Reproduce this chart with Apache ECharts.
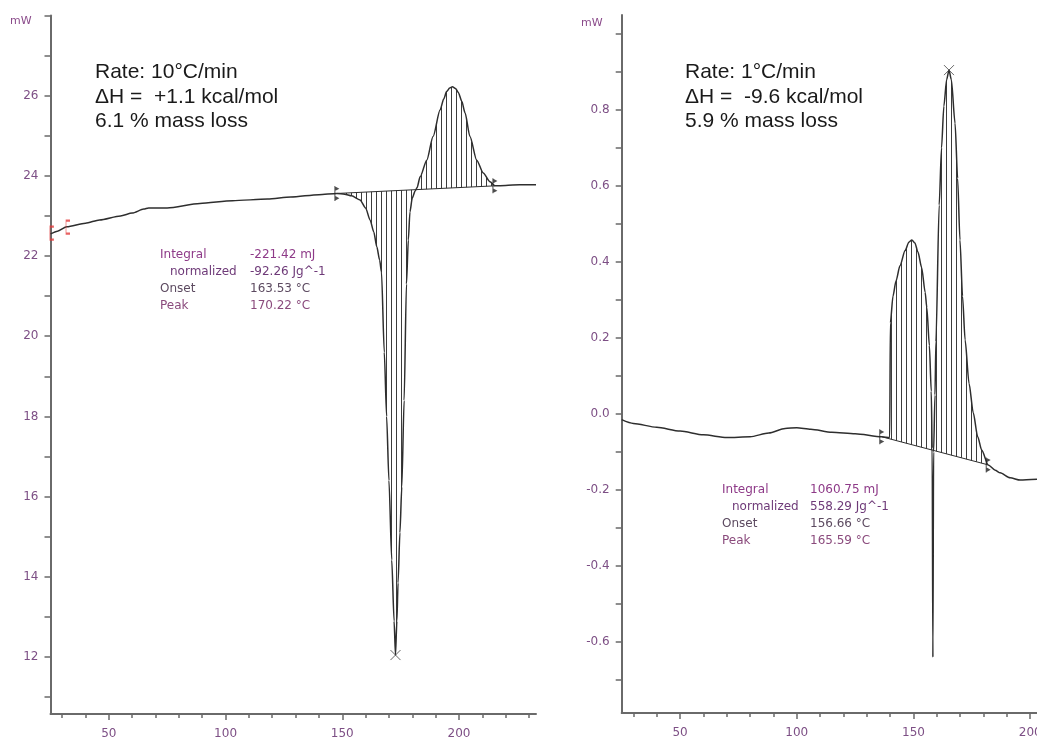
<!DOCTYPE html>
<html>
<head>
<meta charset="utf-8">
<script src="https://cdn.jsdelivr.net/npm/echarts@6/dist/echarts.min.js"></script>
<style>
html,body{margin:0;padding:0;background:#fff;}
#chart{width:1037px;height:744px;}
</style>
</head>
<body>
<div id="chart"></div>
<script>
// ---------- DATA ----------
// Left panel: 10 °C/min
const leftTemp  = [25, 28, 32, 40, 46, 55, 60, 65, 67, 75, 89, 103, 118, 128, 140, 147.7,
  151, 154, 157.6, 160, 161.9, 163.5, 164.8, 166, 166.8, 168, 169, 170, 171.2, 172.2, 172.8,
  173.4, 173.9, 174.7, 175.5, 176.5, 177.5, 178.3, 179, 180, 181.2, 182,
  183.4, 186.2, 188.9, 191.9, 193.5, 194.7, 196, 197.2, 198.5, 199.7, 201.2, 202.6, 204.7, 207.6, 210.4, 213.3, 215.4,
  220, 226, 233];
const leftPower = [22.55, 22.62, 22.73, 22.82, 22.90, 23.0, 23.07, 23.17, 23.2, 23.2, 23.31, 23.38, 23.42, 23.47, 23.53, 23.56,
  23.54, 23.5, 23.4, 23.2, 22.9, 22.6, 22.23, 21.9, 21.6, 19.6, 18.0, 16.4, 14.42, 12.9, 12.05,
  12.9, 13.85, 15.1, 16.24, 18.4, 21.3, 22.4, 23.1, 23.45, 23.62, 23.7,
  23.98, 24.39, 24.98, 25.64, 25.92, 26.10, 26.19, 26.22, 26.18, 26.08, 25.86, 25.57, 24.98, 24.39, 24.07, 23.85, 23.75,
  23.76, 23.78, 23.78];
const leftBaseStart = [147.7, 23.56];
const leftBaseEnd   = [215.4, 23.75];
const leftPeak      = [172.8, 12.05];
const leftRangeMarks = [[25.6, 22.57], [32.5, 22.72]];
const leftYTicks  = [11,12,13,14,15,16,17,18,19,20,21,22,23,24,25,26,27,28];
const leftYLabels = [12,14,16,18,20,22,24,26];
const leftXMinor  = [30,40,60,70,80,90,110,120,130,140,160,170,180,190,210,220,230];
const leftXMajor  = [50,100,150,200];
const leftText = ['Rate: 10\u00B0C/min', '\u0394H =  +1.1 kcal/mol', '6.1 % mass loss'];
const leftInfoLabels = ['Integral', 'normalized', 'Onset', 'Peak'];
const leftInfoValues = ['-221.42 mJ', '-92.26 Jg^-1', '163.53 \u00B0C', '170.22 \u00B0C'];

// Right panel: 1 °C/min
const rightTemp  = [25, 30, 40, 50, 60, 70, 80, 88, 95, 100, 106, 115, 125, 136.4, 139.8,
  140.1, 141.2, 142.5, 144.2, 146.4, 148, 149.3, 150.6, 151.9, 153.5, 155, 155.7, 156.8, 157.6,
  158.0, 158.3, 158.6, 159.2, 159.6, 161, 162, 163, 164.2, 165.2, 166.2, 167.8, 168.9, 169.9, 171, 172.1, 173.8,
  175.6, 177.5, 179.2, 182.0, 185, 187.1, 191.4, 195.7, 202.9];
const rightPower = [-0.015, -0.025, -0.035, -0.045, -0.055, -0.062, -0.06, -0.05, -0.038, -0.036, -0.04, -0.048, -0.052, -0.06, -0.062,
  0.24, 0.31, 0.35, 0.39, 0.43, 0.452, 0.458, 0.45, 0.426, 0.385, 0.32, 0.28, 0.18, 0.06,
  -0.09, -0.64, -0.1, 0.05, 0.19, 0.55, 0.70, 0.81, 0.88, 0.905, 0.88, 0.765, 0.62, 0.458, 0.31, 0.195, 0.08,
  0.003, -0.06, -0.095, -0.134, -0.148, -0.155, -0.168, -0.174, -0.172];
const rightBaseStart = [136.4, -0.06];
const rightBaseEnd   = [182.0, -0.134];
const rightPeak      = [165.2, 0.905];
const rightYTicks  = [-0.7,-0.6,-0.5,-0.4,-0.3,-0.2,-0.1,0,0.1,0.2,0.3,0.4,0.5,0.6,0.7,0.8,0.9,1.0];
const rightYLabels = [-0.6,-0.4,-0.2,0,0.2,0.4,0.6,0.8];
const rightXMinor  = [30,40,60,70,80,90,110,120,130,140,160,170,180,190];
const rightXMajor  = [50,100,150,200];
const rightText = ['Rate: 1\u00B0C/min', '\u0394H =  -9.6 kcal/mol', '5.9 % mass loss'];
const rightInfoLabels = ['Integral', 'normalized', 'Onset', 'Peak'];
const rightInfoValues = ['1060.75 mJ', '558.29 Jg^-1', '156.66 \u00B0C', '165.59 \u00B0C'];

// ---------- STYLE ----------
const axisColor = '#6a6a6a';
const labelColor = '#7d4f85';
const curveColor = '#2e2e2e';
const hatchColor = '#3c3c3c';
const infoColors = ['#8e3a88', '#6e3a78', '#5c4a60', '#8a4a7c'];
const curveSmooth = 0.25;

function zip(a, b){ return a.map((v, i) => [v, b[i]]); }

// hatch lines between the curve and the straight integration baseline (pixel geometry only)
function hatchRenderer(temps, power, b0, b1){
  return function(params, api){
    if (params.dataIndex !== 0) return null;
    const pts = [];
    temps.forEach((t, i) => { if (t >= b0[0] - 1e-9 && t <= b1[0] + 1e-9) pts.push(api.coord([t, power[i]])); });
    const p0 = api.coord(b0), p1 = api.coord(b1);
    const children = [];
    for (let xx = p0[0] + 4; xx < p1[0] - 1; xx += 5) {
      const x = Math.round(xx) + 0.5;
      let yc = null;
      for (let k = 0; k < pts.length - 1; k++) {
        const a = pts[k], b = pts[k + 1];
        if (x >= a[0] && x <= b[0]) { yc = a[1] + (b[1] - a[1]) * (x - a[0]) / ((b[0] - a[0]) || 1); break; }
      }
      if (yc === null) continue;
      const yb = p0[1] + (p1[1] - p0[1]) * (x - p0[0]) / (p1[0] - p0[0]);
      children.push({ type:'line', shape:{x1:x, y1:yc, x2:x, y2:yb}, style:{stroke:hatchColor, lineWidth:1} });
    }
    return { type:'group', children };
  };
}

function panelSeries(g, temps, power, b0, b1, peak){
  const xi = g * 2, yi = g;
  return [
    { type:'custom', xAxisIndex:xi, yAxisIndex:yi, data:[b0], encode:{x:0, y:1},
      renderItem: hatchRenderer(temps, power, b0, b1), silent:true, z:1 },
    { type:'line', xAxisIndex:xi, yAxisIndex:yi, data:[b0, b1],
      showSymbol:false, lineStyle:{color:curveColor, width:1}, silent:true, z:2 },
    { type:'line', xAxisIndex:xi, yAxisIndex:yi, data: zip(temps, power),
      showSymbol:false, smooth:curveSmooth, smoothMonotone:'x', lineStyle:{color:curveColor, width:1.5}, silent:true, z:3 },
    { type:'scatter', xAxisIndex:xi, yAxisIndex:yi, data:[b0, b1],
      symbol:'path://M0,0L4,2.5L0,5Z M0,9L4,11.5L0,14Z M0,0L0.8,0L0.8,14L0,14Z', symbolSize:[5,15],
      itemStyle:{color:'#222'}, silent:true, z:4 },
    { type:'scatter', xAxisIndex:xi, yAxisIndex:yi, data:[peak],
      symbol:'path://M0,0L10,10M10,0L0,10', symbolSize:10,
      itemStyle:{color:'none', borderColor:'#444', borderWidth:1}, silent:true, z:4 }
  ];
}

function xAxes(g, min, max, minor, major){
  return [
    { type:'value', gridIndex:g, min:min, max:max, position:'bottom',
      axisLine:{show:true, onZero:false, lineStyle:{color:axisColor, width:2}},
      axisTick:{show:true, customValues:minor, length:4, lineStyle:{color:axisColor, width:1.5}},
      axisLabel:{show:true, customValues:major, color:labelColor, fontFamily:'DejaVu Sans', fontSize:12, margin:14},
      splitLine:{show:false} },
    { type:'value', gridIndex:g, min:min, max:max, position:'bottom',
      axisLine:{show:false, onZero:false},
      axisTick:{show:true, customValues:major, length:6, lineStyle:{color:axisColor, width:1.5}},
      axisLabel:{show:false}, splitLine:{show:false} }
  ];
}

function yAxis(g, min, max, ticks, labels, fmt){
  return { type:'value', gridIndex:g, min:min, max:max, position:'left',
    axisLine:{show:true, onZero:false, lineStyle:{color:axisColor, width:2}},
    axisTick:{show:true, customValues:ticks, length:6, lineStyle:{color:axisColor, width:1.5}},
    axisLabel:{show:true, customValues:labels, color:labelColor, fontFamily:'DejaVu Sans', fontSize:12, margin:12, formatter:fmt},
    splitLine:{show:false} };
}

function textBlock(x, lines){
  return lines.map((s, i) => ({ type:'text', left:x, top:62 + i * 24.5, silent:true,
    style:{ text:s, fill:'#1a1a1a', font:'21px "Liberation Sans", Arial, sans-serif' } }));
}
function infoBlock(xl, xv, y0, labels, values){
  const out = [];
  labels.forEach((s, i) => {
    out.push({ type:'text', left: xl + (i === 1 ? 10 : 0), top: y0 + i * 16.8, silent:true,
      style:{ text:s, fill:infoColors[i], font:'12px "DejaVu Sans", sans-serif' } });
    out.push({ type:'text', left: xv, top: y0 + i * 16.8, silent:true,
      style:{ text:values[i], fill:infoColors[i], font:'12px "DejaVu Sans", sans-serif' } });
  });
  return out;
}

const series = []
  .concat(panelSeries(0, leftTemp, leftPower, leftBaseStart, leftBaseEnd, leftPeak))
  .concat(panelSeries(1, rightTemp, rightPower, rightBaseStart, rightBaseEnd, rightPeak));
series.push({ type:'scatter', xAxisIndex:0, yAxisIndex:0, data: leftRangeMarks,
  symbol:'path://M3,0L0,0L0,12L3,12', symbolSize:[4,13],
  itemStyle:{color:'none', borderColor:'#e23b3b', borderWidth:1.2}, silent:true, z:5 });

const option = {
  animation:false,
  backgroundColor:'#ffffff',
  grid:[
    {left:50.5, top:15.4, width:485.5, height:698.6, outerBoundsMode:'none', containLabel:false},
    {left:621.7, top:15, width:415.3, height:698, outerBoundsMode:'none', containLabel:false}
  ],
  xAxis: xAxes(0, 25, 233, leftXMinor, leftXMajor).concat(xAxes(1, 25, 202.9, rightXMinor, rightXMajor)),
  yAxis: [
    yAxis(0, 10.58, 28, leftYTicks, leftYLabels, v => String(Math.round(v))),
    yAxis(1, -0.787, 1.05, rightYTicks, rightYLabels, v => (Math.abs(v) < 1e-9 ? 0 : v).toFixed(1))
  ],
  series: series,
  graphic: []
    .concat(textBlock(95, leftText))
    .concat(textBlock(685, rightText))
    .concat(infoBlock(160, 250, 249, leftInfoLabels, leftInfoValues))
    .concat(infoBlock(722, 810, 484, rightInfoLabels, rightInfoValues))
    .concat([
      { type:'text', left:10, top:16, silent:true, style:{text:'mW', fill:'#8a4a8a', font:'11px "DejaVu Sans", sans-serif'} },
      { type:'text', left:581, top:18, silent:true, style:{text:'mW', fill:'#8a4a8a', font:'11px "DejaVu Sans", sans-serif'} }
    ])
};

const chart = echarts.init(document.getElementById('chart'), null, {renderer:'canvas'});
chart.setOption(option);
</script>
</body>
</html>
